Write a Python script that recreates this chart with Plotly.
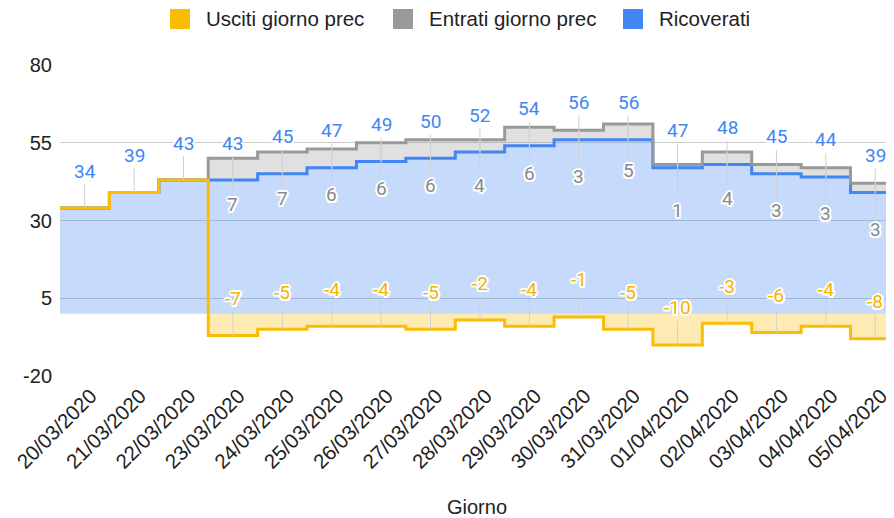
import plotly.graph_objects as go

# ---- data ----
dates = ["20/03/2020", "21/03/2020", "22/03/2020", "23/03/2020", "24/03/2020",
         "25/03/2020", "26/03/2020", "27/03/2020", "28/03/2020", "29/03/2020",
         "30/03/2020", "31/03/2020", "01/04/2020", "02/04/2020", "03/04/2020",
         "04/04/2020", "05/04/2020"]
ricoverati = [34, 39, 43, 43, 45, 47, 49, 50, 52, 54, 56, 56, 47, 48, 45, 44, 39]
entrati = [None, None, None, 7, 7, 6, 6, 6, 4, 6, 3, 5, 1, 4, 3, 3, 3]
usciti = [None, None, None, -7, -5, -4, -4, -5, -2, -4, -1, -5, -10, -3, -6, -4, -8]
series_names = ["Usciti giorno prec", "Entrati giorno prec", "Ricoverati"]
y_ticks = [-20, 5, 30, 55, 80]

# ---- styles ----
BLUE = "#4285F4"
GRAY = "#999999"
YELLOW = "#FBBC04"
series_colors = [YELLOW, GRAY, BLUE]
AX_FONT = "Liberation Sans, Arial, sans-serif"
LBL_FONT = "Roboto, sans-serif"
HALO = ("-1.5px -1.5px 0 #fff, 1.5px -1.5px 0 #fff, -1.5px 1.5px 0 #fff, 1.5px 1.5px 0 #fff, "
        "0 2px 0 #fff, 2px 0 0 #fff, 0 -2px 0 #fff, -2px 0 0 #fff")

# layout geometry (the page body adds an 8px offset, so the figure is 8px smaller)
FIG_W, FIG_H = 886, 510
M_L, M_R, M_T, M_B = 52, 0, 57, 142
PLOT_W = FIG_W - M_L - M_R
PLOT_H = FIG_H - M_T - M_B
legend_left_px = [162, 385, 615]   # left edge of each legend swatch (figure px)
SWATCH = 20
LEGEND_CY = 11                      # legend centre line (figure px)


def px_to_paper_x(px):
    return (px - M_L) / PLOT_W


def px_to_paper_y(py):
    return 1 + (M_T - py) / PLOT_H


n = len(dates)
idx = list(range(n))
edges = [i - 0.5 for i in range(n + 1)]


def stepped(vals):
    return list(vals) + [vals[-1]]


top = [r + (e or 0) for r, e in zip(ricoverati, entrati)]
usc_fill = [u if u is not None else 0 for u in usciti]
usc_line = [u if u is not None else t for u, t in zip(usciti, top)]

fig = go.Figure()
fig.add_trace(go.Scatter(x=edges, y=stepped(usc_fill), mode="lines", line_shape="hv",
                         line=dict(width=0, color=YELLOW), fill="tozeroy",
                         fillcolor="rgba(251,188,4,0.3)", name=series_names[0],
                         showlegend=False, hoverinfo="skip"))
fig.add_trace(go.Scatter(x=edges, y=stepped(ricoverati), mode="lines", line_shape="hv",
                         line=dict(width=3, color=BLUE), fill="tozeroy",
                         fillcolor="rgba(66,133,244,0.3)", name=series_names[2],
                         showlegend=False))
fig.add_trace(go.Scatter(x=edges, y=stepped(top), mode="lines", line_shape="hv",
                         line=dict(width=3, color=GRAY), fill="tonexty",
                         fillcolor="rgba(153,153,153,0.3)", name=series_names[1],
                         showlegend=False))
fig.add_trace(go.Scatter(x=edges, y=stepped(usc_line), mode="lines", line_shape="hv",
                         line=dict(width=3, color=YELLOW), name=series_names[0],
                         showlegend=False))

annotations = []
shapes = []


def label(x, y, text, color, ay):
    annotations.append(dict(x=x, y=y, xref="x", yref="y", text=str(text), showarrow=True,
                            arrowhead=0, arrowwidth=1, arrowcolor="#d0d0d0", ax=0, ay=ay,
                            standoff=0, startstandoff=0,
                            font=dict(family=LBL_FONT, size=19, color=color, shadow=HALO)))


for i in idx:
    label(i, ricoverati[i], ricoverati[i], BLUE, -37)
    if entrati[i] is not None:
        label(i, top[i], entrati[i], "#8a8a8a", 46)
    if usciti[i] is not None:
        label(i, usciti[i], usciti[i], "#F4B400", -37)

# legend (swatch + text) drawn at the top, like the original chart
for name, col, left in zip(series_names, series_colors, legend_left_px):
    shapes.append(dict(type="rect", xref="paper", yref="paper",
                       x0=px_to_paper_x(left), x1=px_to_paper_x(left + SWATCH),
                       y0=px_to_paper_y(LEGEND_CY + SWATCH / 2), y1=px_to_paper_y(LEGEND_CY - SWATCH / 2),
                       fillcolor=col, line=dict(width=0), layer="above"))
    annotations.append(dict(x=px_to_paper_x(left + SWATCH + 14), y=px_to_paper_y(LEGEND_CY),
                            xref="paper", yref="paper", xanchor="left", yanchor="middle",
                            text=name, showarrow=False,
                            font=dict(family=AX_FONT, size=20.5, color="#222222")))

fig.update_layout(
    width=FIG_W, height=FIG_H,
    margin=dict(l=M_L, r=M_R, t=M_T, b=M_B),
    paper_bgcolor="white", plot_bgcolor="white",
    font=dict(family=AX_FONT, size=20, color="#222222"),
    showlegend=False,
    annotations=annotations,
    shapes=shapes,
    xaxis=dict(range=[-0.5, 16.38], tickmode="array", tickvals=idx, ticktext=dates,
               tickangle=-45, showgrid=False, zeroline=False, showline=False,
               automargin=False, ticklabelstandoff=3, ticklabelshift=6,
               ticklabeloverflow="allow",
               tickfont=dict(family=AX_FONT, size=20.5, color="#222222"),
               title=dict(text="Giorno", standoff=30,
                          font=dict(family=AX_FONT, size=20, color="#222222"))),
    yaxis=dict(range=[-20, 80], tickmode="array", tickvals=y_ticks,
               ticktext=[str(v) for v in y_ticks], showgrid=True,
               gridcolor="#cccccc", gridwidth=1, zeroline=False, showline=False,
               automargin=False, ticklabelstandoff=7,
               tickfont=dict(family=AX_FONT, size=20, color="#222222")),
)

fig.write_html("out.html")
